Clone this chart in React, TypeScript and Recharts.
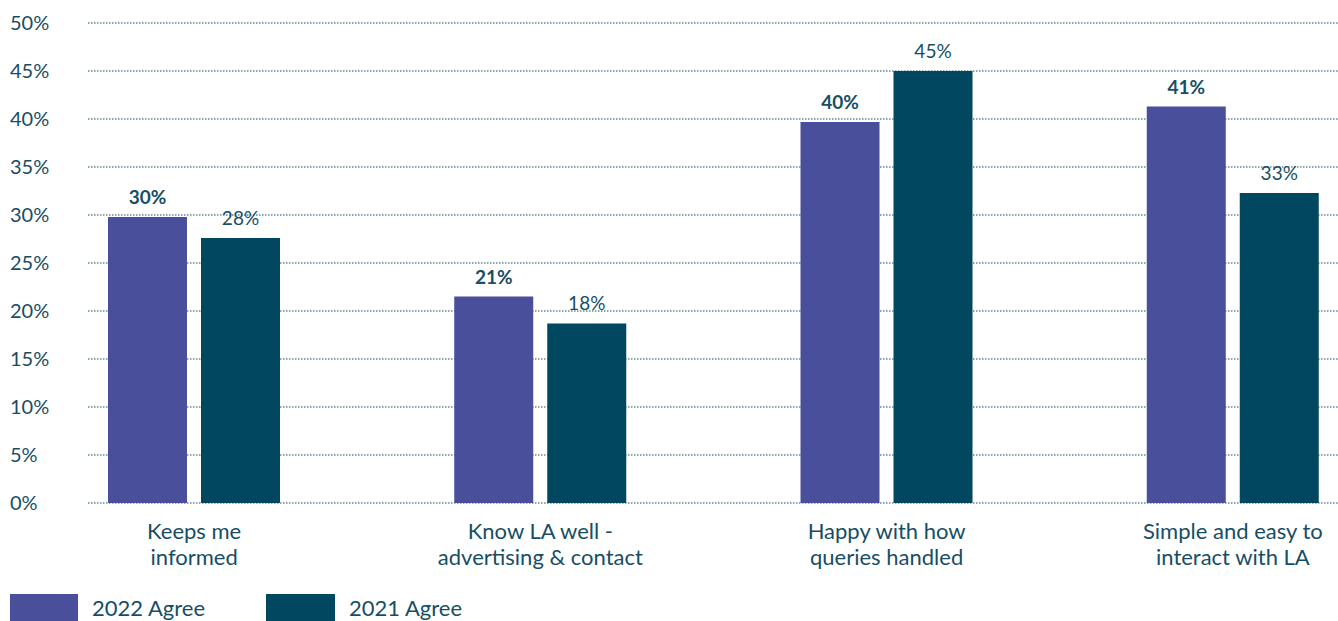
import React from "react";
import { BarChart, Bar, XAxis, YAxis, CartesianGrid, LabelList } from "recharts";

const categories = [
  "Keeps me\ninformed",
  "Know LA well -\nadvertising & contact",
  "Happy with how\nqueries handled",
  "Simple and easy to\ninteract with LA",
];
const agree2022 = [29.8, 21.5, 39.7, 41.3];
const agree2021 = [27.6, 18.7, 45.0, 32.3];
const labels2022 = ["30%", "21%", "40%", "41%"];
const labels2021 = ["28%", "18%", "45%", "33%"];
const yTicks = [0, 5, 10, 15, 20, 25, 30, 35, 40, 45, 50];
const seriesNames = ["2022 Agree", "2021 Agree"];

const PURPLE = "#4a4f9b";
const TEAL = "#00475f";
const TEXT = "#174e64";
const FONT = "Lato, 'Noto Sans', sans-serif";

const data = categories.map((c, i) => ({
  name: c,
  a2022: agree2022[i],
  a2021: agree2021[i],
  l2022: labels2022[i],
  l2021: labels2021[i],
}));

const YTick = (props: any) => {
  const { y, payload } = props;
  return (
    <text x={10} y={y} dy={7} textAnchor="start" fill={TEXT} fontSize={20} fontFamily={FONT}>
      {payload.value}%
    </text>
  );
};

const XTick = (props: any) => {
  const { x, y, payload } = props;
  const lines = String(payload.value).split("\n");
  return (
    <g>
      {lines.map((l: string, i: number) => (
        <text key={i} x={x} y={y + 28 + i * 26} textAnchor="middle" fill={TEXT} fontSize={22} fontFamily={FONT}>
          {l}
        </text>
      ))}
    </g>
  );
};

export default function App() {
  return (
    <div style={{ position: "absolute", left: 0, top: 0, width: 1338, height: 621, background: "#fff", fontFamily: FONT }}>
      <BarChart
        width={1338}
        height={621}
        data={data}
        margin={{ top: 23, right: 0, left: 0, bottom: 0 }}
        barSize={79}
        barGap={14}
      >
        <CartesianGrid vertical={false} stroke="#174e64" strokeDasharray="1.5 1.5" />
        <XAxis
          dataKey="name"
          height={118}
          axisLine={false}
          tickLine={false}
          tick={<XTick />}
          interval={0}
          padding={{ left: -67, right: -68 }}
        />
        <YAxis
          width={88}
          domain={[0, 50]}
          ticks={yTicks}
          axisLine={false}
          tickLine={false}
          tick={<YTick />}
          interval={0}
        />
        <Bar dataKey="a2022" fill={PURPLE} isAnimationActive={false}>
          <LabelList
            dataKey="l2022"
            position="top"
            offset={13}
            fill={TEXT}
            fontSize={19}
            fontWeight={700}
            fontFamily={FONT}
          />
        </Bar>
        <Bar dataKey="a2021" fill={TEAL} isAnimationActive={false}>
          <LabelList
            dataKey="l2021"
            position="top"
            offset={13}
            fill={TEXT}
            fontSize={19}
            fontWeight={400}
            fontFamily={FONT}
          />
        </Bar>
      </BarChart>
      <div style={{ position: "absolute", left: 10, top: 594, height: 27, display: "flex", alignItems: "center" }}>
        <div style={{ width: 68, height: 27, background: PURPLE }} />
        <span style={{ marginLeft: 14, fontSize: 22, color: TEXT, fontFamily: FONT }}>{seriesNames[0]}</span>
      </div>
      <div style={{ position: "absolute", left: 266, top: 594, height: 27, display: "flex", alignItems: "center" }}>
        <div style={{ width: 69, height: 27, background: TEAL }} />
        <span style={{ marginLeft: 14, fontSize: 22, color: TEXT, fontFamily: FONT }}>{seriesNames[1]}</span>
      </div>
    </div>
  );
}
